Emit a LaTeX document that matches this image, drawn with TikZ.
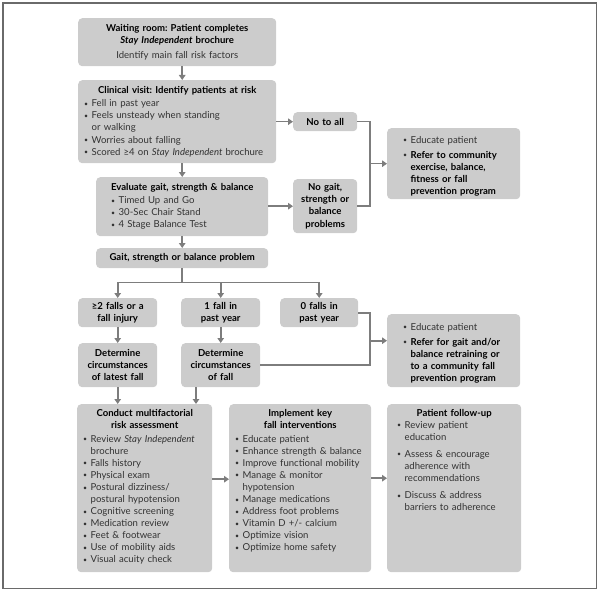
\documentclass[tikz,border=0pt]{standalone}
\usepackage{fontspec}
\setmainfont{Lato}
\usetikzlibrary{calc,arrows.meta}

\definecolor{boxgray}{RGB}{204,204,204}
\definecolor{linkgray}{RGB}{125,125,125}
\definecolor{txtgray}{RGB}{50,50,50}
\setlength{\parindent}{0pt}
\frenchspacing

\newcommand{\boxhead}[1]{{\centering\bfseries\color{black}#1\par}}
\newcommand{\boxitem}[1]{\par\hangindent=7.5bp\hangafter=1\makebox[7.5bp][l]{\raisebox{0.1ex}{\scriptsize\textbullet}}#1}

\tikzset{
  flowbox/.style={rectangle, rounded corners=4bp, fill=boxgray, anchor=north west,
    inner xsep=6bp, inner ysep=2bp, align=left, text=txtgray,
    font=\fontsize{9.6}{12.1}\selectfont},
  smallbox/.style={flowbox, inner xsep=2bp},
  tallbox/.style={flowbox, text height=10bp, text depth=154bp},
  link/.style={draw=linkgray, line width=1.6bp},
  arr/.style={link, -{Triangle[length=5bp,width=6.5bp]}},
}

\begin{document}
\begin{tikzpicture}[x=1bp, y=-1bp]
  \useasboundingbox (0,0) rectangle (600,592);
  \draw[linkgray!85!black, line width=1.2bp] (3,3) rectangle (596.5,588.5); % frame

  % main column
  \node[flowbox, text width=186bp, minimum height=48bp] (wait) at (78,18) {%
    \boxhead{Waiting room: Patient completes\\\textit{Stay Independent} brochure}
    \vspace{3bp}{\centering Identify main fall risk factors\par}};
  \node[flowbox, text width=186bp, minimum height=83bp] (clin) at (78,80) {%
    \boxhead{Clinical visit: Identify patients at risk}
    \vspace{1bp}
    \boxitem{Fell in past year}
    \boxitem{Feels unsteady when standing\break or walking}
    \boxitem{Worries about falling}
    \boxitem{Scored ≥4 on \textit{Stay Independent} brochure}\par};
  \node[flowbox, text width=160bp, minimum height=59bp] (eval) at (96,177) {%
    \boxhead{Evaluate gait, strength \& balance}
    \vspace{1bp}
    {\leftskip=9bp
    \boxitem{Timed Up and Go}
    \boxitem{30-Sec Chair Stand}
    \boxitem{4 Stage Balance Test}\par}};
  \node[flowbox, text width=160bp, minimum height=20bp] (gait) at (96,248) {%
    \boxhead{Gait, strength or balance problem}};

  % side branch
  \node[smallbox, text width=60bp, minimum height=19bp] (noall) at (293,112) {\boxhead{No to all}};
  \node[smallbox, text width=60bp, minimum height=54bp] (nogait) at (293,179) {%
    \boxhead{No gait,\\strength or\\balance\\problems}};
  \node[flowbox, text width=121bp, minimum height=71bp] (edu1) at (387,128) {%
    {\leftskip=10bp
    \boxitem{Educate patient}\vspace{3bp}
    \boxitem{\bfseries\color{black}Refer to community\break exercise, balance,\break fitness or fall\break prevention program}\par}};

  % falls row
  \node[smallbox, text width=75bp, minimum height=29bp] (many) at (78,298) {\boxhead{≥2 falls or a\\fall injury}};
  \node[smallbox, text width=75bp, minimum height=29bp] (one) at (181,298) {\boxhead{1 fall in\\past year}};
  \node[smallbox, text width=74bp, minimum height=29bp] (zero) at (280,298) {\boxhead{0 falls in\\past year}};
  \node[smallbox, text width=75bp, minimum height=44bp] (detA) at (78,343) {%
    \boxhead{Determine\\circumstances\\of latest fall}};
  \node[smallbox, text width=75bp, minimum height=44bp] (detB) at (181,343) {%
    \boxhead{Determine\\circumstances\\of fall}};
  \node[flowbox, text width=121bp, minimum height=73bp] (edu2) at (387,314) {%
    {\leftskip=10bp
    \boxitem{Educate patient}\vspace{3bp}
    \boxitem{\bfseries\color{black}Refer for gait and/or\break balance retraining or\break to a community fall\break prevention program}\par}};

  % bottom row
  \node[tallbox, text width=123bp] (cond) at (77,404) {%
    \boxhead{Conduct multifactorial\\risk assessment}
    \vspace{2bp}
    \boxitem{Review \textit{Stay Independent}\break brochure}
    \boxitem{Falls history}
    \boxitem{Physical exam}
    \boxitem{Postural dizziness/\break postural hypotension}
    \boxitem{Cognitive screening}
    \boxitem{Medication review}
    \boxitem{Feet \& footwear}
    \boxitem{Use of mobility aids}
    \boxitem{Visual acuity check}\par};
  \node[tallbox, text width=130bp] (impl) at (229,404) {%
    \boxhead{Implement key\\fall interventions}
    \vspace{2bp}
    \boxitem{Educate patient}
    \boxitem{Enhance strength \& balance}
    \boxitem{Improve functional mobility}
    \boxitem{Manage \& monitor\break hypotension}
    \boxitem{Manage medications}
    \boxitem{Address foot problems}
    \boxitem{Vitamin D +/- calcium}
    \boxitem{Optimize vision}
    \boxitem{Optimize home safety}\par};
  \node[tallbox, text width=122bp] (follow) at (387,404) {%
    \boxhead{Patient follow-up}
    {\leftskip=4bp
    \boxitem{Review patient\break education}\vspace{5bp}
    \boxitem{Assess \& encourage\break adherence with\break recommendations}\vspace{5bp}
    \boxitem{Discuss \& address\break barriers to adherence}\par}};

  % connectors
  \draw[arr] (wait.south -| gait.north) -- (clin.north -| gait.north);
  \draw[arr] (clin.south -| gait.north) -- (eval.north);
  \draw[arr] (eval.south) -- (gait.north);
  \draw[arr] (clin.east |- noall.west) -- (noall.west);
  \draw[arr] (eval.east |- nogait.west) -- (nogait.west);
  \coordinate (j1) at ($(edu1.west)+(-17,0)$);
  \draw[link] (noall.east) -| (j1) |- (nogait.east);
  \draw[arr] (j1) -- (edu1.west);

  \coordinate (split) at ($(gait.south)+(0,14)$);
  \draw[link] (gait.south) -- (split);
  \draw[arr] (split) -| (many.north);
  \draw[arr] (split) -| (zero.north);
  \draw[arr] (split -| one.north) -- (one.north);
  \draw[arr] (many.south) -- (detA.north);
  \draw[arr] (one.south) -- (detB.north);
  \coordinate (j2) at ($(edu2.west)+(-17,-10)$); % arrow sits above the box centre
  \draw[link] (zero.east) -| (j2) |- (detB.east);
  \draw[arr] (j2) -- (edu2.west |- j2);

  \draw[arr] (detA.south) -- (cond.north -| detA.south);
  \coordinate (k) at ($(detB.south west)+(15,0)$);
  \draw[arr] (k) -- (k |- cond.north);
  \draw[arr] ($(cond.east)+(0,-9)$) -- ($(impl.west)+(0,-9)$);
  \draw[arr] ($(impl.east)+(0,-10)$) -- ($(follow.west)+(0,-10)$);
\end{tikzpicture}
\end{document}
